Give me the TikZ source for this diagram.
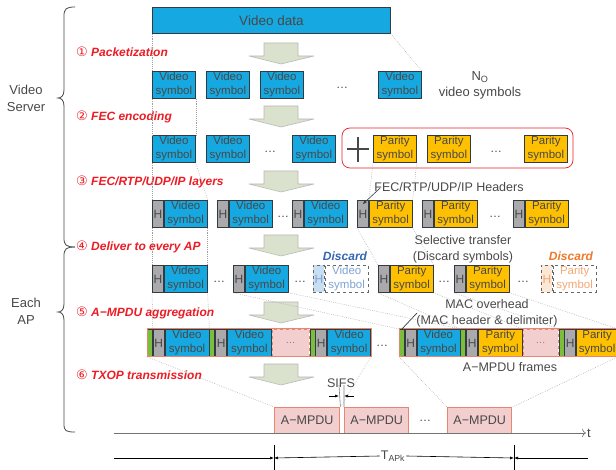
\documentclass[tikz,border=0pt]{standalone}
\usepackage{fontspec}
\setmainfont{Liberation Sans}
\newfontfamily\circfont{DejaVu Sans}
\usetikzlibrary{arrows.meta,positioning,calc}

\definecolor{vblue}{RGB}{22,168,224}
\definecolor{porange}{RGB}{255,192,0}
\definecolor{hgray}{RGB}{170,170,172}
\definecolor{delgreen}{RGB}{122,190,60}
\definecolor{boxline}{RGB}{50,58,66}
\definecolor{txtgray}{RGB}{72,72,72}
\definecolor{stepred}{RGB}{236,28,36}
\definecolor{framered}{RGB}{232,134,112}
\definecolor{mpdupink}{RGB}{242,206,206}
\definecolor{arrowfill}{RGB}{218,225,204}
\definecolor{discblue}{RGB}{52,102,178}
\definecolor{discorange}{RGB}{240,120,40}
\definecolor{gonebluefill}{RGB}{200,222,242}
\definecolor{gonebluetxt}{RGB}{128,164,212}
\definecolor{goneorgfill}{RGB}{252,232,214}
\definecolor{goneorgtxt}{RGB}{244,168,118}

\newcommand{\stepno}[1]{{\circfont\mdseries\upshape\fontsize{13}{14}\selectfont #1}}

\tikzset{
  sym/.style={draw=boxline, line width=0.8pt, minimum width=43, minimum height=27,
    inner sep=0pt, align=center, text=txtgray,
    font=\fontsize{11.5}{14}\selectfont, anchor=north west},
  vsym/.style={sym, fill=vblue},
  psym/.style={sym, fill=porange},
  hbox/.style={sym, fill=hgray, minimum width=11, font=\fontsize{12}{13}\selectfont},
  delim/.style={sym, fill=delgreen, minimum width=5},
  gapbox/.style={sym, fill=mpdupink, draw=framered, dashed, text=gray,
    font=\fontsize{10}{12}\selectfont},
  gonevh/.style={sym, fill=gonebluefill, draw=gray!80!black, dashed, text=gonebluetxt,
    minimum width=11, font=\fontsize{12}{13}\selectfont},
  gonev/.style={sym, fill=white, draw=gray!80!black, dashed, text=gonebluetxt},
  goneph/.style={gonevh, fill=goneorgfill, text=goneorgtxt},
  gonep/.style={gonev, text=goneorgtxt},
  stepnote/.style={anchor=west, inner sep=0pt, text=stepred,
    font=\fontsize{12}{14}\selectfont\bfseries\itshape},
  note/.style={text=txtgray, inner sep=1pt, align=center, font=\fontsize{12.5}{16}\selectfont},
  sidenote/.style={text=txtgray, align=center, font=\fontsize{13}{17}\selectfont},
  dotsnote/.style={text=txtgray, inner sep=0pt, font=\fontsize{12}{12}\selectfont},
  discnote/.style={inner sep=0pt, font=\fontsize{12}{14}\selectfont\bfseries\itshape},
  mpdu/.style={draw=framered, line width=1.4pt, fill=mpdupink, minimum height=26,
    inner sep=0pt, anchor=north west, text=txtgray, font=\fontsize{12.5}{14}\selectfont},
  dotline/.style={gray!75, line width=0.5pt, dash pattern=on 0.6pt off 1.3pt},
  blockarrow/.style={fill=arrowfill, draw=gray!55, line width=0.6pt, line join=round},
  brace/.style={draw=txtgray, line width=0.8pt},
}

\begin{document}
\begin{tikzpicture}[x=1pt,y=-1pt]
  \useasboundingbox (0,0) rectangle (616,470);

  % braces on the left
  \draw[brace] (75,7) .. controls (66,7) and (64,9) .. (64,16) -- (64,90)
    .. controls (64,96) and (61,98) .. (58,98) .. controls (61,98) and (64,100) .. (64,106)
    -- (64,238) .. controls (64,245) and (66,247) .. (75,247);
  \draw[brace] (75,247) .. controls (66,247) and (64,249) .. (64,256) -- (64,304)
    .. controls (64,310) and (61,312) .. (58,312) .. controls (61,312) and (64,314) .. (64,320)
    -- (64,424) .. controls (64,431) and (66,432) .. (75,432);
  \node[sidenote] (server) at (26,98) {Video\\Server};
  \node[sidenote] (eachap) at (26,311) {Each\\AP};

  % steps
  \node[stepnote] (s1) at (76,52) {\stepno{①} Packetization};
  \node[stepnote] (s2) at (76,117) {\stepno{②} FEC encoding};
  \node[stepnote] (s3) at (76,182) {\stepno{③} FEC/RTP/UDP/IP layers};
  \node[stepnote] (s4) at (76,247) {\stepno{④} Deliver to every AP};
  \node[stepnote] (s5) at (76,313) {\stepno{⑤} A−MPDU aggregation};
  \node[stepnote] (s6) at (76,375) {\stepno{⑥} TXOP transmission};

  % block arrows between the rows
  \foreach \y in {43,106,171,235,302,364}
    \draw[blockarrow] (264,\y) -- (298,\y) -- (298,\y+13) -- (314,\y+13)
      -- (281,\y+21) -- (249,\y+13) -- (264,\y+13) -- cycle;

  % video data
  \node[vsym, minimum width=238, minimum height=26, font=\fontsize{13.5}{15}\selectfont]
    (vdata) at (152,7) {Video data};

  % row 1
  \node[vsym] (v11) at (152,71) {Video\\symbol};
  \node[vsym] (v12) at (206,71) {Video\\symbol};
  \node[vsym] (v13) at (260,71) {Video\\symbol};
  \node[dotsnote] (dots11) at (342,88) {…};
  \node[vsym] (v14) at (378,71) {Video\\symbol};
  \node[note, font=\fontsize{13}{16}\selectfont] (nvid) at (480,85)
    {N\textsubscript{O}\\video symbols};

  % row 2
  \node[vsym] (v21) at (152,135) {Video\\symbol};
  \node[vsym] (v22) at (206,135) {Video\\symbol};
  \node[dotsnote] (dots21) at (270,152) {…};
  \node[vsym] (v23) at (292,135) {Video\\symbol};
  \draw[stepred, line width=0.7pt, rounded corners=8pt] (342,128) rectangle (573,168);
  \draw[txtgray, line width=1.3pt] (347,149) -- (369,149) (358,137) -- (358,162);
  \node[psym] (p21) at (373,135) {Parity\\symbol};
  \node[psym] (p22) at (427,135) {Parity\\symbol};
  \node[dotsnote] (dots22) at (496,152) {…};
  \node[psym] (p23) at (524,135) {Parity\\symbol};

  % row 3
  \node[hbox] (h31) at (152,200) {H};
  \node[vsym, right=0pt of h31] (v31) {Video\\symbol};
  \node[hbox] (h32) at (217,200) {H};
  \node[vsym, right=0pt of h32] (v32) {Video\\symbol};
  \node[dotsnote] (dots31) at (283,217) {…};
  \node[hbox] (h33) at (292,200) {H};
  \node[vsym, right=0pt of h33] (v33) {Video\\symbol};
  \node[hbox] (hp31) at (357,200) {H};
  \node[psym, right=0pt of hp31] (p31) {Parity\\symbol};
  \node[hbox] (hp32) at (422,200) {H};
  \node[psym, right=0pt of hp32] (p32) {Parity\\symbol};
  \node[dotsnote] (dots32) at (495,217) {…};
  \node[hbox] (hp33) at (513,200) {H};
  \node[psym, right=0pt of hp33] (p33) {Parity\\symbol};
  \node[note] (hdrnote) at (449,187) {FEC/RTP/UDP/IP Headers};
  \draw[boxline, line width=0.6pt, -{Stealth[length=4pt,width=3pt]}]
    ($(hdrnote.west)+(7,1)$) -- ($(hp31.north)+(0,4)$);

  % row 4
  \node[hbox] (h41) at (152,265) {H};
  \node[vsym, right=0pt of h41] (v41) {Video\\symbol};
  \node[dotsnote] (dots41) at (219,282) {…};
  \node[hbox] (h42) at (233,265) {H};
  \node[vsym, right=0pt of h42] (v42) {Video\\symbol};
  \node[dotsnote] (dots42) at (300,282) {…};
  \node[gonevh] (hx41) at (313,265) {H};
  \node[gonev, right=0pt of hx41] (vx41) {Video\\symbol};
  \node[discnote, text=discblue] (disc1) at (345,256) {Discard};
  \node[hbox] (hp41) at (378,265) {H};
  \node[psym, right=0pt of hp41] (p41) {Parity\\symbol};
  \node[dotsnote] (dots43) at (444,282) {…};
  \node[hbox] (hp42) at (454,265) {H};
  \node[psym, right=0pt of hp42] (p42) {Parity\\symbol};
  \node[dotsnote] (dots44) at (523,282) {…};
  \node[goneph] (hx42) at (541,265) {H};
  \node[gonep, right=0pt of hx42] (px42) {Parity\\symbol};
  \node[discnote, text=discorange] (disc2) at (571,256) {Discard};
  \node[note] (seltr) at (463,249) {Selective transfer\\(Discard symbols)};

  % row 5: A-MPDU frames
  \node[delim] (d51) at (147,329) {};
  \node[hbox, right=0pt of d51] (h51) {H};
  \node[vsym, minimum width=44, right=0pt of h51] (v51) {Video\\symbol};
  \node[delim, right=0pt of v51] (d52) {};
  \node[hbox, right=0pt of d52] (h52) {H};
  \node[vsym, minimum width=44, right=0pt of h52] (v52) {Video\\symbol};
  \node[gapbox, minimum width=37, right=0pt of v52] (gap51) {…};
  \node[delim, right=0pt of gap51] (d53) {};
  \node[hbox, right=0pt of d53] (h53) {H};
  \node[vsym, right=0pt of h53] (v53) {Video\\symbol};
  \draw[framered, line width=1pt] (d51.north west) rectangle (v53.south east);
  \node[dotsnote] (dots51) at (382,346) {…};
  \node[delim] (d54) at (399,329) {};
  \node[hbox, right=0pt of d54] (h54) {H};
  \node[vsym, right=0pt of h54] (v54) {Video\\symbol};
  \node[delim, right=0pt of v54] (d55) {};
  \node[hbox, right=0pt of d55] (h55) {H};
  \node[psym, minimum width=44, right=0pt of h55] (p54) {Parity\\symbol};
  \node[gapbox, minimum width=35, right=0pt of p54] (gap52) {…};
  \node[delim, right=0pt of gap52] (d56) {};
  \node[hbox, right=0pt of d56] (h56) {H};
  \node[psym, minimum width=41, right=0pt of h56] (p55) {Parity\\symbol};
  \draw[framered, line width=1pt] (d54.north west) rectangle (p55.south east);
  \node[note] (macnote) at (487,313) {MAC overhead\\(MAC header \& delimiter)};
  \coordinate (macpt) at (417,313);
  \draw[boxline, line width=0.7pt] (macpt) -- (d54.north);
  \node[note] (framenote) at (510,367) {A−MPDU frames};

  % row 6: TXOP
  \node[mpdu, minimum width=65] (m1) at (274,407) {A−MPDU};
  \node[mpdu, minimum width=64] (m2) at (344,407) {A−MPDU};
  \node[dotsnote] (dots61) at (425,421) {…};
  \node[mpdu, minimum width=64] (m3) at (447,407) {A−MPDU};

  \node[note] (sifs) at (341,383) {SIFS};
  \coordinate (sifsa) at (339,385);
  \coordinate (sifsb) at (344,385);
  \coordinate (sifsl) at (329,396);
  \coordinate (sifsr) at (354,396);
  \draw[gray, line width=0.6pt] (m1.north east) -- (sifsa) (m2.north west) -- (sifsb);
  \draw[black, line width=0.6pt, -{Latex[length=4pt,width=3pt]}] (sifsl) -- (sifsl -| sifsa);
  \draw[black, line width=0.6pt, -{Latex[length=4pt,width=3pt]}] (sifsr) -- (sifsr -| sifsb);

  % time axis
  \coordinate (t0) at (114,433);
  \node[note, anchor=west, font=\fontsize{13}{14}\selectfont] (tlab) at (586,433) {t};
  \draw[gray!90!black, line width=0.6pt, -{To[length=4pt]}] (t0) -- (tlab.west);

  % T_APk span
  \coordinate (b0) at (114,458);
  \coordinate (b1) at (274,458);
  \coordinate (b2) at (514,458);
  \coordinate (b3) at (588,458);
  \draw[black, line width=0.6pt] (274,445) -- (274,470) (514,445) -- (514,470);
  \node[note, fill=white, inner sep=1pt] (tapk) at (393,456) {T\textsubscript{APk}};
  \draw[black, line width=0.6pt, -{Latex[length=4pt,width=3pt]}] (b0) -- (b1);
  \draw[black, line width=0.6pt, {Latex[length=4pt,width=3pt]}-] (b1) -- (tapk.west);
  \draw[black, line width=0.6pt, -{Latex[length=4pt,width=3pt]}] (tapk.east) -- (b2);
  \draw[black, line width=0.6pt, {Latex[length=4pt,width=3pt]}-] (b2) -- (b3);

  % dotted guide lines
  \draw[dotline] (vdata.south west) -- (v11.north west);
  \draw[dotline] (vdata.south east) -- (v14.north east);
  \draw[dotline] (v11.south west) -- (v21.north west);
  \draw[dotline] (v11.south east) -- (v21.north east);
  \draw[dotline] (v21.south west) -- (h31.north west);
  \draw[dotline] (v21.south east) -- (v31.north east);
  \draw[dotline] (p21.south west) -- (p31.north west);
  \draw[dotline] (p21.south east) -- (p31.north east);
  \draw[dotline] (h31.south west) -- (h41.north west);
  \draw[dotline] (v31.south east) -- (v41.north east);
  \draw[dotline] (hp31.south west) -- (hp41.north west);
  \draw[dotline] (p31.south east) -- (p41.north east);
  \draw[dotline] (h41.south west) -- (h51.north west);
  \draw[dotline] (v41.south east) -- (v51.north east);
  \draw[dotline] (h42.south west) -- (d54.north west);
  \draw[dotline] (v42.south east) -- (v54.north east);
  \draw[dotline] (hp41.south west) -- (d55.north west);
  \draw[dotline] (p41.south east) -- (p54.north east);
  \draw[dotline] (hp42.south west) -- (d56.north west);
  \draw[dotline] (p42.south east) -- (p55.north east);
  \draw[dotline] (d51.south west) -- (m1.north west);
  \draw[dotline] (v53.south east) -- (m1.north east);
  \draw[dotline] (d54.south west) -- (m3.north west);
  \draw[dotline] (p55.south east) -- (m3.north east);
\end{tikzpicture}
\end{document}
